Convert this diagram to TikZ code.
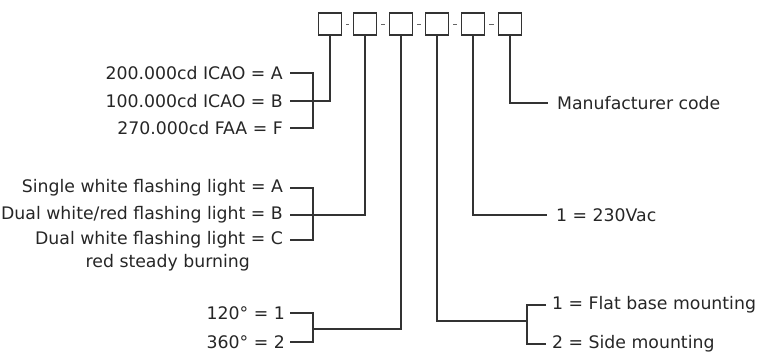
\documentclass[tikz,border=0pt]{standalone}
\usepackage{fontspec}
\setmainfont{DejaVu Sans}
\begin{document}
\begin{tikzpicture}[x=1pt,y=-1pt,
  ln/.style={line width=1.4pt, draw=black!80},
  codebox/.style={draw=black!80, line width=1.6pt, minimum width=23pt, minimum height=22pt, inner sep=0pt, fill=white},
  lbl/.style={inner sep=0pt, text=black!85, font=\fontsize{17.3}{19}\selectfont},
  lblL/.style={lbl, anchor=east},
  lblR/.style={lbl, anchor=west}]
\useasboundingbox (0,0) rectangle (763,355);
% code boxes
\node[codebox] (b1) at (330,24) {};
\node[codebox] (b2) at (365,24) {};
\node[codebox] (b3) at (401,24) {};
\node[codebox] (b4) at (437,24) {};
\node[codebox] (b5) at (473,24) {};
\node[codebox] (b6) at (510,24) {};
\foreach \a/\b in {b1/b2,b2/b3,b3/b4,b4/b5,b5/b6}
  \draw[line width=0.8pt, draw=black!60] ([xshift=4pt]\a.east) -- ([xshift=-4pt]\b.west);
% group 1
\node[lblL] (tA) at (283,73) {200.000cd ICAO = A};
\node[lblL] (tB) at (283,101) {100.000cd ICAO = B};
\node[lblL] (tF) at (283,128) {270.000cd FAA = F};
\draw[ln] ([xshift=7pt]tA.east) -- ++(23,0) |- ([xshift=7pt]tF.east);
\draw[ln] ([xshift=7pt]tB.east) -| (b1.south);
% group 2
\node[lblL] (s1) at (283,188) {Single white flashing light = A};
\node[lblL] (s2) at (283,215) {Dual white/red flashing light = B};
\node[lblL] (s3) at (283,240) {Dual white flashing light = C};
\node[lblL] (s4) at (250,263) {red steady burning};
\draw[ln] ([xshift=7pt]s1.east) -- ++(23,0) |- ([xshift=7pt]s3.east);
\draw[ln] ([xshift=7pt]s2.east) -| (b2.south);
% group 3
\node[lblL] (d1) at (285,313) {120° = 1};
\node[lblL] (d2) at (285,342) {360° = 2};
\draw[ln] ([xshift=5pt]d1.east) -- ++(23,0) |- ([xshift=5pt]d2.east);
\coordinate (m3) at (313,329);
\draw[ln] (m3) -| (b3.south);
% right side
\node[lblR] (mfr) at (557,103) {Manufacturer code};
\draw[ln] (b6.south) |- ([xshift=-9pt]mfr.west);
\node[lblR] (v230) at (556,215) {1 = 230Vac};
\draw[ln] (b5.south) |- ([xshift=-9pt]v230.west);
\node[lblR] (r1) at (552,305) {1 = Flat base mounting};
\node[lblR] (r2) at (552,344) {2 = Side mounting};
\draw[ln] ([xshift=-6pt]r1.west) -- ++(-19,0) |- ([xshift=-6pt]r2.west);
\coordinate (m4) at (527,321);
\draw[ln] (b4.south) |- (m4);
\end{tikzpicture}
\end{document}
